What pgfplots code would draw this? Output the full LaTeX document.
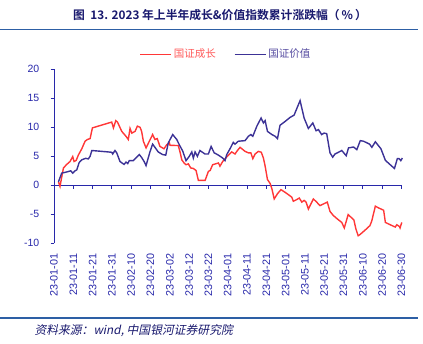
\documentclass[border=0pt]{standalone}
\usepackage{fontspec}
\usepackage{pgfplots}
\pgfplotsset{compat=1.18}
\setmainfont{Liberation Sans}
\newfontfamily\cjk{Noto Sans CJK SC}[BoldFont={* Bold}]
\newfontfamily\cjkit{Noto Sans CJK SC}[FakeSlant=0.2]
\definecolor{gred}{RGB}{255,55,55}
\definecolor{vblue}{RGB}{60,50,150}
\definecolor{axcol}{RGB}{40,40,170}
\definecolor{navy}{RGB}{25,25,110}
\definecolor{rule}{RGB}{45,95,165}
\definecolor{gredtxt}{RGB}{255,90,90}
\definecolor{vbluetxt}{RGB}{85,75,160}
\begin{document}
\begin{tikzpicture}
\path[use as bounding box] (0pt,0pt) rectangle (423pt,-343pt);
\node[font=\cjk\bfseries\fontsize{11.8}{12}\selectfont, text=navy] at (220pt,-15pt) {图\ \ 13. 2023 年上半年成长\&价值指数累计涨跌幅（\,\%\,）};
\draw[rule, line width=1.2pt] (0pt,-29.3pt) -- (418pt,-29.3pt);
\draw[rule, line width=1.2pt] (0pt,-318pt) -- (418pt,-318pt);
\node[anchor=west, font=\cjkit\fontsize{11.8}{13}\selectfont, text=navy] at (31pt,-330.5pt) {资料来源：wind, 中国银河证券研究院};

% axis with lines, data and legend
\begin{axis}[
  at={(54pt,-243.3pt)}, anchor=south west,
  scale only axis, width=347.4pt, height=174pt,
  xmin=0, xmax=180, ymin=-10, ymax=20,
  clip=false,
  axis y line*=left, axis x line*=middle,
  axis line style={axcol, line width=1pt},
  ytick={-10,-5,0,5,10,15,20},
  xtick={0,10,...,180}, xticklabels={},
  tick style={axcol, line width=1pt},
  major tick length=3.5pt,
  tick align=outside,
  yticklabel style={font=\fontsize{10.5}{12}\selectfont, text=axcol, anchor=east, inner sep=0pt},
  yticklabel shift=11pt,
  /pgf/number format/assume math mode=true,
  legend style={at={(rel axis cs:0.495,1)}, anchor=center, yshift=15pt, draw=none, fill=none,
    legend columns=2, font=\cjk\fontsize{10.5}{12}\selectfont,
    /tikz/every even column/.append style={column sep=16pt}, inner sep=0pt},
  legend cell align=left,
  legend image code/.code={\draw[#1, line width=1.4pt] (0pt,0pt) -- (31pt,0pt);},
]
\addplot[gred, line width=1.4pt] coordinates {
(2.3,0.6)(3.1,-0.2)(4.9,3.0)(6.6,3.6)(8.3,4.1)(9.7,4.95)(10.4,4.1)(11.5,4.3)(12.6,5.2)(14.4,6.3)(16.1,7.6)(17.3,7.9)(18.7,8.05)(19.9,9.9)(29.9,10.9)(30.8,9.9)(32,11.15)(32.9,10.9)(35.1,9.3)(37.3,8.45)(38.5,7.9)(39.4,9.8)(40.3,9.0)(42,9.3)(43.2,10.2)(44.6,10.0)(45.4,9.3)(46.3,7.6)(47.7,6.45)(49.4,7.6)(51.1,8.75)(52.3,7.9)(53.5,8.05)(54.9,6.7)(57,6.3)(58.4,7.0)(59.8,7.3)(60.1,6.9)(64.4,6.85)(65.3,5.75)(66.2,4.4)(67.4,3.85)(68.4,3.55)(69.6,3.7)(70.8,3.0)(72.2,2.9)(73.6,2.55)(74.8,0.85)(78.3,0.85)(80,2.4)(80.9,2.55)(82.2,3.55)(85.2,3.85)(86,3.3)(87.4,4.1)(89.8,5.0)(92.1,5.75)(93.8,5.4)(94.7,5.85)(96.4,6.55)(99,5.85)(100.7,5.6)(102,5.6)(103,4.6)(104.2,5.4)(105.9,5.85)(107.4,5.7)(108.5,4.7)(109.4,3.3)(110.6,1.0)(112,0.3)(112.9,-0.6)(114.1,-2.35)(115.8,-1.45)(117.6,-0.75)(119.7,-1.2)(121.4,-1.6)(123.2,-2.05)(124,-2.75)(125.8,-2.45)(127.1,-2.2)(128.4,-2.9)(129.6,-2.6)(130.6,-2.9)(131.8,-4.1)(134.4,-2.35)(136.1,-2.9)(137.8,-3.5)(141.6,-2.9)(143,-4.5)(144.7,-5.2)(146.8,-5.8)(149.1,-6.4)(150.4,-7.35)(151.6,-6.0)(152.4,-5.05)(154.2,-5.6)(155.4,-6.0)(156.4,-7.5)(157.6,-8.7)(158.5,-8.5)(161.1,-7.75)(163.7,-6.95)(164.6,-6.2)(166.5,-3.6)(168.2,-3.9)(170.8,-4.3)(171.7,-6.4)(174.2,-6.8)(176.8,-7.2)(177.6,-6.8)(179,-7.1)(179.3,-7.35)(180.2,-6.4)
};
\addlegendentry{\textcolor{gredtxt}{国证成长}}
\addplot[vblue, line width=1.4pt] coordinates {
(2.3,0.6)(4,2.1)(6.6,2.3)(8.7,2.5)(9.7,2.1)(10.9,2.5)(11.8,2.65)(13,3.9)(14.4,4.4)(16.4,4.65)(17.8,4.55)(18.7,5.0)(19.6,6.0)(29.9,5.7)(30.4,5.4)(31.6,6.0)(32.5,5.6)(34.2,4.1)(36.3,3.6)(37.3,4.0)(38.2,3.75)(39,4.25)(41,4.25)(44.2,5.3)(45.4,4.8)(46.7,4.1)(47.7,3.4)(49.7,5.75)(51.1,7.1)(52.3,6.55)(54,5.75)(56.3,5.3)(57.9,5.2)(59.2,7.3)(61.5,8.75)(63.6,7.9)(64.9,7.0)(66.7,5.9)(68.4,4.25)(70.1,5.0)(71.4,5.75)(72.2,4.7)(73.1,5.75)(74.3,5.0)(75.6,6.0)(78.2,5.4)(80,5.4)(81.4,6.7)(83,5.6)(85.2,5.2)(87.4,4.7)(88.6,4.25)(89.5,5.3)(91.2,6.3)(92.9,7.4)(93.8,7.1)(95.5,7.6)(99,7.7)(100.7,8.45)(102,8.75)(103,8.45)(105.1,10.2)(107.3,11.6)(108.5,10.75)(109.4,11.15)(110.6,9.3)(112.9,8.75)(114.6,8.45)(115.8,8.05)(117.1,10.35)(119.7,11.0)(122.3,11.7)(124.4,12.1)(127.5,14.6)(129.6,11.6)(131.8,9.8)(134.1,10.75)(135.8,9.4)(137,9.6)(138.7,8.75)(139.9,9.0)(141.3,8.9)(143,5.6)(144.4,4.85)(145.6,5.4)(147.4,5.7)(149.1,6.0)(151.4,5.1)(152.6,6.45)(155.2,6.6)(156.9,6.15)(158.7,7.7)(160.4,7.6)(163.5,7.1)(164.7,6.55)(166.5,7.5)(169.4,6.3)(171.7,4.3)(174.2,3.55)(176.4,2.9)(177.9,4.6)(178.8,4.6)(179.7,4.25)(180.5,4.7)
};
\addlegendentry{\textcolor{vbluetxt}{国证价值}}
\end{axis}

% axis carrying only the date labels at the bottom
\begin{axis}[
  at={(54pt,-243.3pt)}, anchor=south west,
  scale only axis, width=347.4pt, height=174pt,
  xmin=0, xmax=180, ymin=-10, ymax=20,
  axis y line=none, axis x line*=bottom,
  x axis line style={draw=none},
  xtick={0,10,...,180},
  xticklabels={23-01-01,23-01-11,23-01-21,23-01-31,23-02-10,23-02-20,23-03-02,23-03-12,23-03-22,23-04-01,23-04-11,23-04-21,23-05-01,23-05-11,23-05-21,23-05-31,23-06-10,23-06-20,23-06-30},
  major tick length=0pt,
  xticklabel style={font=\fontsize{10.8}{12}\selectfont, text=axcol, rotate=90, anchor=east, inner sep=0pt},
  xticklabel shift=10pt,
]
\end{axis}
\end{tikzpicture}
\end{document}
